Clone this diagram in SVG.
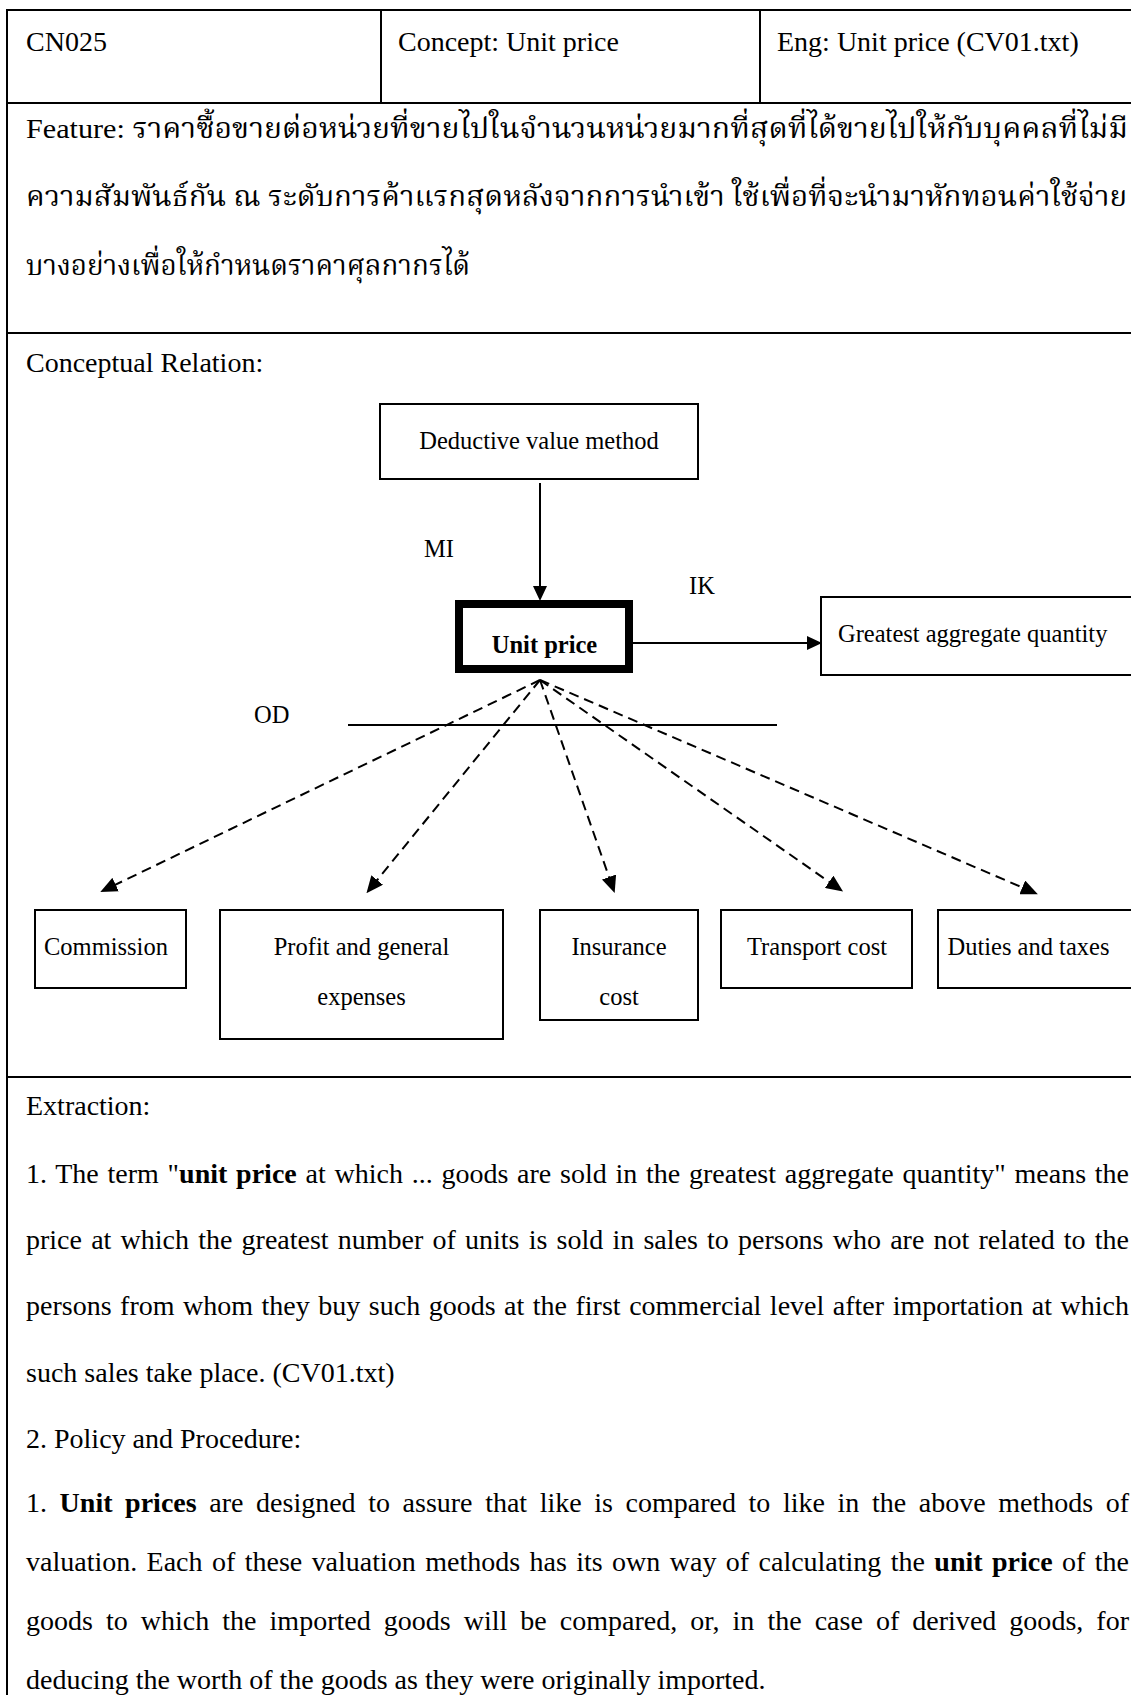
<svg xmlns="http://www.w3.org/2000/svg" width="1131" height="1695" viewBox="0 0 1131 1695">
  <style>
    .grid { stroke: #000; stroke-width: 2; fill: none; }
    .txt { font-family: "Liberation Serif", "Times New Roman", serif; font-size: 28px; fill: #000; }
    .thai { font-family: "Liberation Serif", "Noto Serif Thai", "Noto Sans Thai", "Loma", "Garuda", "Norasi", serif; font-size: 28px; fill: #000; }
    .lbl { font-family: "Liberation Serif", "Times New Roman", serif; font-size: 24.5px; fill: #000; }
    .box { fill: #fff; stroke: #000; stroke-width: 2; }
    .solid { stroke: #000; stroke-width: 2; fill: none; }
    .dash { stroke: #000; stroke-width: 2; fill: none; stroke-dasharray: 10 6; }
    .b { font-weight: bold; }
  </style>
  <defs>
    <marker id="headSolid" viewBox="0 0 15 14" refX="7" refY="7" markerWidth="15" markerHeight="14" markerUnits="userSpaceOnUse" orient="auto">
      <path d="M0,0 L15,7 L0,14 z" fill="#000"/>
    </marker>
    <marker id="headDash" viewBox="0 0 17 15" refX="9" refY="7.5" markerWidth="17" markerHeight="15" markerUnits="userSpaceOnUse" orient="auto">
      <path d="M0,0 L17,7.5 L0,15 z" fill="#000"/>
    </marker>
  </defs>
  <rect width="1131" height="1695" fill="#fff"/>

  <!-- table frame -->
  <g id="table">
    <line class="grid" x1="7" y1="10" x2="7" y2="1695"/>
    <line class="grid" x1="6" y1="10" x2="1131" y2="10"/>
    <line class="grid" x1="6" y1="103" x2="1131" y2="103"/>
    <line class="grid" x1="6" y1="333" x2="1131" y2="333"/>
    <line class="grid" x1="6" y1="1077" x2="1131" y2="1077"/>
    <line class="grid" x1="381" y1="10" x2="381" y2="103"/>
    <line class="grid" x1="760" y1="10" x2="760" y2="103"/>
  </g>

  <!-- header row -->
  <g id="header">
    <text class="txt" x="26" y="51">CN025</text>
    <text class="txt" x="398" y="51">Concept: Unit price</text>
    <text class="txt" x="777" y="51">Eng: Unit price (CV01.txt)</text>
  </g>

  <!-- feature description -->
  <g id="feature">
    <text class="thai" x="26" y="138" textLength="1102" lengthAdjust="spacingAndGlyphs">Feature: ราคาซื้อขายต่อหน่วยที่ขายไปในจำนวนหน่วยมากที่สุดที่ได้ขายไปให้กับบุคคลที่ไม่มี</text>
    <text class="thai" x="26" y="206" textLength="1101" lengthAdjust="spacingAndGlyphs">ความสัมพันธ์กัน ณ ระดับการค้าแรกสุดหลังจากการนำเข้า ใช้เพื่อที่จะนำมาหักทอนค่าใช้จ่าย</text>
    <text class="thai" x="26" y="275" textLength="444" lengthAdjust="spacingAndGlyphs">บางอย่างเพื่อให้กำหนดราคาศุลกากรได้</text>
  </g>

  <text class="txt" x="26" y="372">Conceptual Relation:</text>

  <!-- connectors -->
  <g id="connectors">
    <line class="solid" x1="540" y1="483" x2="540" y2="593" marker-end="url(#headSolid)"/>
    <line class="solid" x1="633" y1="643" x2="814" y2="643" marker-end="url(#headSolid)"/>
    <line class="solid" x1="348" y1="725" x2="777" y2="725"/>
    <line class="dash" x1="540" y1="680" x2="107.5" y2="888.5" marker-end="url(#headDash)"/>
    <line class="dash" x1="540" y1="680" x2="371.5" y2="887" marker-end="url(#headDash)"/>
    <line class="dash" x1="540" y1="680" x2="612" y2="885.5" marker-end="url(#headDash)"/>
    <line class="dash" x1="540" y1="680" x2="836.5" y2="887" marker-end="url(#headDash)"/>
    <line class="dash" x1="540" y1="680" x2="1030.5" y2="891" marker-end="url(#headDash)"/>
    <text class="lbl" x="424" y="557">MI</text>
    <text class="lbl" x="689" y="594">IK</text>
    <text class="lbl" x="254" y="723">OD</text>
  </g>

  <!-- nodes -->
  <g id="node-deductive">
    <rect class="box" x="380" y="404" width="318" height="75"/>
    <text class="lbl" x="539" y="449" text-anchor="middle">Deductive value method</text>
  </g>
  <g id="node-unit-price">
    <rect x="459" y="604" width="170" height="65" fill="#fff" stroke="#000" stroke-width="8"/>
    <text class="lbl b" x="544.5" y="653" text-anchor="middle">Unit price</text>
  </g>
  <g id="node-greatest">
    <rect class="box" x="821" y="597" width="320" height="78"/>
    <text class="lbl" x="838" y="642">Greatest aggregate quantity</text>
  </g>
  <g id="node-commission">
    <rect class="box" x="35" y="910" width="151" height="78"/>
    <text class="lbl" x="44" y="955">Commission</text>
  </g>
  <g id="node-profit">
    <rect class="box" x="220" y="910" width="283" height="129"/>
    <text class="lbl" x="361.5" y="955" text-anchor="middle">Profit and general</text>
    <text class="lbl" x="361.5" y="1005" text-anchor="middle">expenses</text>
  </g>
  <g id="node-insurance">
    <rect class="box" x="540" y="910" width="158" height="110"/>
    <text class="lbl" x="619" y="955" text-anchor="middle">Insurance</text>
    <text class="lbl" x="619" y="1005" text-anchor="middle">cost</text>
  </g>
  <g id="node-transport">
    <rect class="box" x="721" y="910" width="191" height="78"/>
    <text class="lbl" x="817" y="955" text-anchor="middle">Transport cost</text>
  </g>
  <g id="node-duties">
    <rect class="box" x="938" y="910" width="203" height="78"/>
    <text class="lbl" x="947.5" y="955">Duties and taxes</text>
  </g>

  <!-- extraction text -->
  <g id="extraction">
    <text class="txt" x="26" y="1115">Extraction:</text>
    <text class="txt" x="26" y="1183" textLength="1103" lengthAdjust="spacing" word-spacing="1.7">1. The term "<tspan class="b">unit price</tspan> at which ... goods are sold in the greatest aggregate quantity" means the</text>
    <text class="txt" x="26" y="1249" textLength="1103" lengthAdjust="spacing" word-spacing="2.2">price at which the greatest number of units is sold in sales to persons who are not related to the</text>
    <text class="txt" x="26" y="1315" textLength="1103" lengthAdjust="spacing" word-spacing="1.5">persons from whom they buy such goods at the first commercial level after importation at which</text>
    <text class="txt" x="26" y="1382">such sales take place. (CV01.txt)</text>
    <text class="txt" x="26" y="1448">2. Policy and Procedure:</text>
    <text class="txt" x="26" y="1512" textLength="1103" lengthAdjust="spacing" word-spacing="5.6">1. <tspan class="b">Unit prices</tspan> are designed to assure that like is compared to like in the above methods of</text>
    <text class="txt" x="26" y="1571" textLength="1103" lengthAdjust="spacing" word-spacing="2.4">valuation. Each of these valuation methods has its own way of calculating the <tspan class="b">unit price</tspan> of the</text>
    <text class="txt" x="26" y="1630" textLength="1103" lengthAdjust="spacing" word-spacing="6">goods to which the imported goods will be compared, or, in the case of derived goods, for</text>
    <text class="txt" x="26" y="1689">deducing the worth of the goods as they were originally imported.</text>
  </g>
</svg>
